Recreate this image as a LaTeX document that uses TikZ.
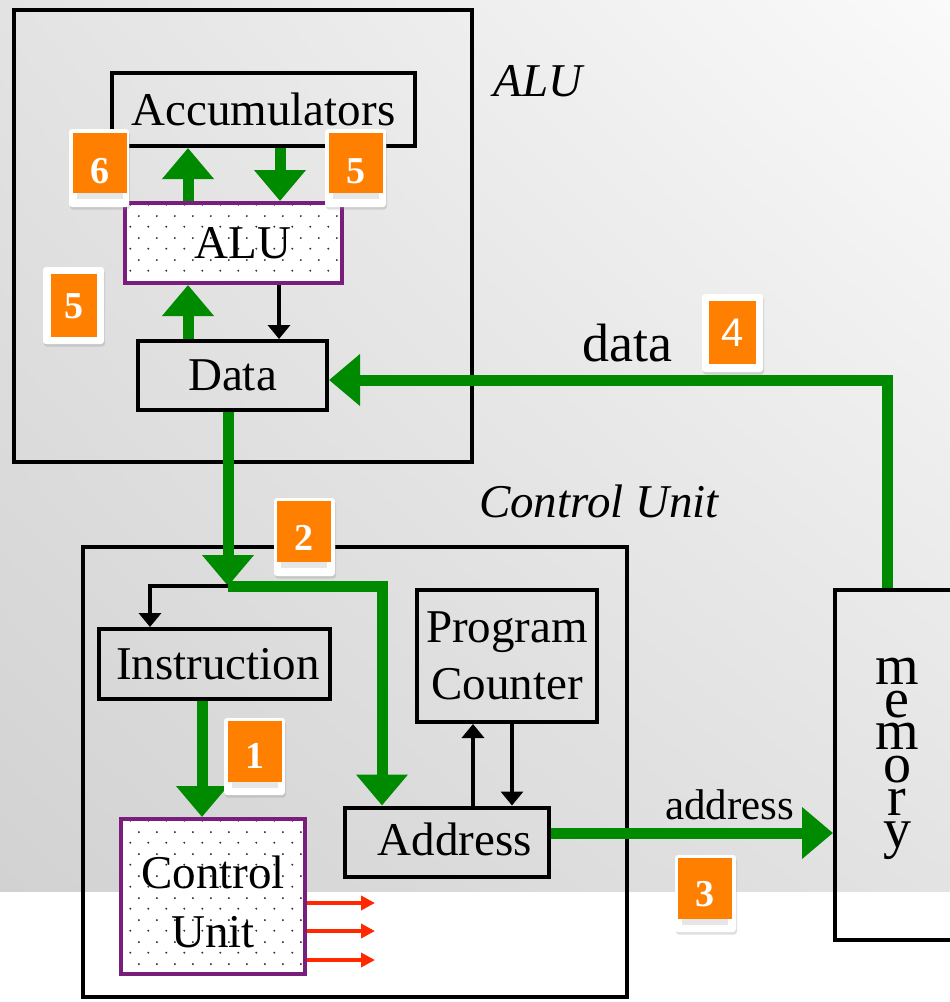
\documentclass[tikz,border=0pt]{standalone}
\usepackage{fontspec}
\setmainfont{Liberation Serif}
\newfontfamily\badgesans{Liberation Sans}
\usetikzlibrary{arrows.meta,shadows,patterns.meta,shadings}
\definecolor{gr}{RGB}{0,138,0}
\definecolor{pur}{RGB}{122,30,125}
\definecolor{org}{RGB}{255,127,0}
\definecolor{redar}{RGB}{255,40,0}
\definecolor{dotc}{RGB}{70,35,70}
\definecolor{bgUL}{RGB}{227,227,227}
\definecolor{bgUR}{RGB}{250,250,250}
\definecolor{bgLL}{RGB}{210,210,210}
\definecolor{bgLR}{RGB}{227,227,227}
\definecolor{stripc}{RGB}{230,230,230}
\tikzdeclarepattern{
  name=cudots,
  type=uncolored,
  bounding box={(0pt,0pt) and (18pt,22pt)},
  tile size={(18pt,22pt)},
  code={
    \pgfpathcircle{\pgfpoint{4.5pt}{5.5pt}}{1.1pt}
    \pgfpathcircle{\pgfpoint{13.5pt}{16.5pt}}{1.1pt}
    \pgfusepath{fill}
  }
}
\tikzset{
  box/.style={draw=black, line width=4pt, inner sep=0pt, font=\fontsize{47}{57}\selectfont, align=center},
  dotbox/.style={box, draw=pur, preaction={fill=white}, pattern=cudots, pattern color=dotc},
  outerbox/.style={draw=black, line width=4pt, inner sep=0pt},
  garrow/.style={draw=gr, line width=11pt, -{Triangle[width=50pt,length=31pt]}},
  gline/.style={draw=gr, line width=11pt},
  karrow/.style={draw=black, line width=3.5pt, -{Triangle[width=22pt,length=14pt]}},
  rarrow/.style={draw=redar, line width=4.5pt, -{Triangle[width=14pt,length=14pt]}},
  frame/.style={fill=white, inner sep=0pt, rounded corners=3pt, drop shadow={shadow xshift=1pt, shadow yshift=-2.5pt, opacity=0.25}},
  face/.style={fill=org, text=white, font=\fontsize{38}{38}\selectfont\bfseries, inner sep=0pt, text depth=0pt, text height=#1},
  face/.default=25.7pt,
  strip/.style={fill=stripc},
  lbl/.style={font=\fontsize{47}{57}\selectfont, inner sep=0pt},
}
\begin{document}
\begin{tikzpicture}[x=1pt,y=-1pt]
\useasboundingbox (0,0) rectangle (950,1002);
\clip (0,0) rectangle (950,1002);
\fill[white] (0,0) rectangle (950,1002);
\shade[upper left=bgUL, upper right=bgUR, lower left=bgLL, lower right=bgLR] (0,0) rectangle (950,891);

% ---- ALU section
\node[outerbox, minimum width=458pt, minimum height=452pt] (alubox) at (243,236) {};
\node[lbl, font=\fontsize{47}{57}\selectfont\itshape] (alulabel) at (538,81) {ALU};
\node[box, minimum width=303pt, minimum height=73pt] (acc) at (263.5,109.5) {Accumulators};
\node[dotbox, minimum width=217pt, minimum height=80pt] (alu) at (233.5,243) {\hspace*{19pt}ALU};
\node[box, minimum width=189pt, minimum height=69pt] (data) at (232.5,375.5) {Data};

% ---- Control unit section
\node[outerbox, minimum width=544pt, minimum height=450pt] (cubox) at (355,772) {};
\node[lbl, font=\fontsize{47}{57}\selectfont\itshape] (culabel) at (599,501) {Control Unit};
\node[box, minimum width=231pt, minimum height=70pt] (instr) at (214.5,664) {\hspace*{7pt}Instruction};
\node[dotbox, minimum width=184pt, minimum height=155pt, font=\fontsize{47}{59}\selectfont] (cu) at (213,896.5) {\rule{0pt}{43pt}Control\\Unit};
\node[box, minimum width=180pt, minimum height=132pt] (pc) at (507,656) {Program\\Counter};
\node[box, minimum width=204pt, minimum height=69pt] (addr) at (447,842) {\hspace*{16pt}Address\rule[-6pt]{0pt}{6pt}};

% ---- memory
\node[outerbox, minimum width=120pt, minimum height=350pt] (mem) at (895,765) {};
\node[inner sep=0pt, align=center, font=\fontsize{56}{32.6}\selectfont] (memlabel) at (897,759) {m\\e\\m\\o\\r\\y};

% ---- labels
\node[inner sep=0pt, font=\fontsize{54}{60}\selectfont] (datalbl) at (627.5,343.5) {data};
\node[inner sep=0pt, font=\fontsize{43}{50}\selectfont] (addrlbl) at (729.5,805) {address};

% ---- connectors
\coordinate (j) at (228,586);
\coordinate (r1) at (375,903);
\coordinate (r2) at (375,931);
\coordinate (r3) at (375,960);

\draw[garrow] (alu.north -| 188,0) -- (acc.south -| 188,0);
\draw[garrow] (acc.south -| 280,0) -- (alu.north -| 280,0);
\draw[garrow] (data.north -| 188,0) -- (alu.south -| 188,0);
\draw[karrow] (alu.south -| 279,0) -- (data.north -| 279,0);
\draw[garrow] (mem.north -| 887,0) |- (data.east |- 0,380);
\draw[garrow] (data.south -| 228,0) -- (j);
\draw[gline, -{Triangle[width=50pt,length=31pt]}] (j) -| (addr.north -| 382,0);
\draw[karrow] (j) -| (instr.north -| 150,0);
\draw[garrow] (instr.south -| 202,0) -- (cu.north -| 202,0);
\draw[karrow] (addr.north -| 473,0) -- (pc.south -| 473,0);
\draw[karrow] (pc.south -| 512,0) -- (addr.north -| 512,0);
\draw[garrow] (addr.east |- 0,833) -- (mem.west |- 0,833);
\draw[rarrow] (cu.east |- r1) -- (r1);
\draw[rarrow] (cu.east |- r2) -- (r2);
\draw[rarrow] (cu.east |- r3) -- (r3);

% ---- badges
\node[frame, minimum width=60pt, minimum height=78pt] (f6) at (99,168) {};
\node[face=41.7pt, minimum width=54pt, minimum height=60pt] (o6) at (100,163) {6};
\fill[strip] (77,193) rectangle (123,199);

\node[frame, minimum width=61pt, minimum height=78pt] (f5a) at (355.5,168) {};
\node[face=40.7pt, minimum width=54pt, minimum height=60pt] (o5a) at (356,163) {5};
\fill[strip] (333,193) rectangle (379,199);

\node[frame, minimum width=61pt, minimum height=77pt] (f5b) at (73.5,305.5) {};
\node[face, minimum width=46pt, minimum height=63pt] (o5b) at (74,305.5) {5};

\node[frame, minimum width=61pt, minimum height=78pt] (f2) at (304.5,537) {};
\node[face=38.7pt, minimum width=54pt, minimum height=61pt] (o2) at (304,531.5) {2};
\fill[strip] (281,562) rectangle (327,568);

\node[frame, minimum width=61pt, minimum height=77pt] (f1) at (254.5,756.5) {};
\node[face=34.7pt, minimum width=54pt, minimum height=61pt] (o1) at (255,751.5) {1};
\fill[strip] (232,782) rectangle (278,788);

\node[frame, minimum width=61pt, minimum height=78pt] (f4) at (732.5,333) {};
\node[face=28.6pt, font=\fontsize{40}{40}\selectfont\badgesans, minimum width=47pt, minimum height=63pt] (o4) at (732.5,332.5) {4};

\node[frame, minimum width=61pt, minimum height=77pt] (f3) at (705.5,893.5) {};
\node[face=36.7pt, minimum width=54pt, minimum height=61pt] (o3) at (705,888.5) {3};
\fill[strip] (682,919) rectangle (728,925);
\end{tikzpicture}
\end{document}
